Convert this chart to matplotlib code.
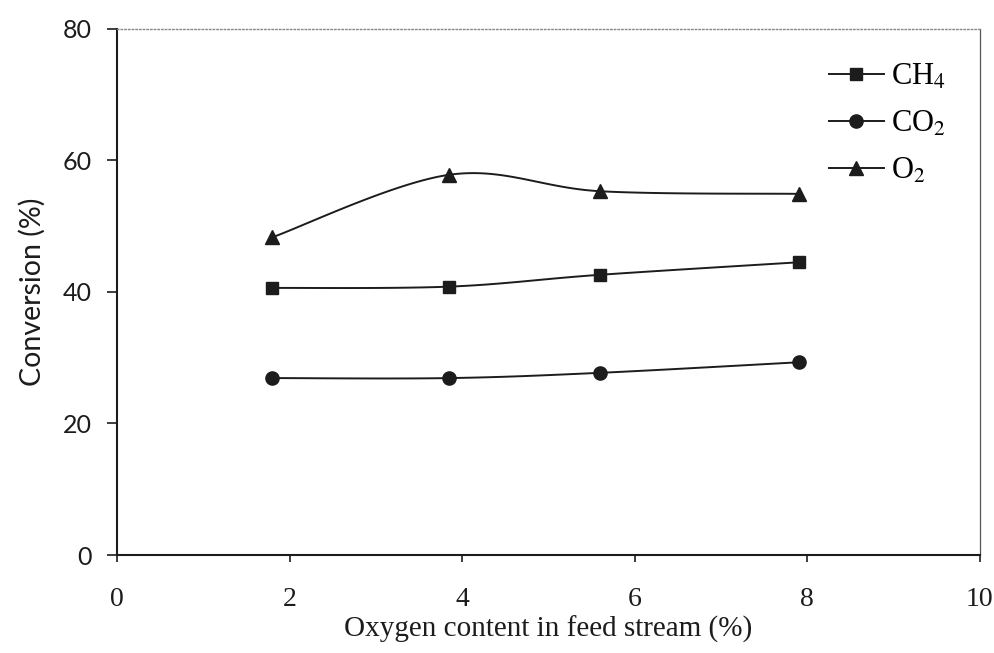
import numpy as np
import matplotlib
matplotlib.use("Agg")
import matplotlib.pyplot as plt

# values
oxygen = [1.8, 3.85, 5.6, 7.9]
ch4 = [40.6, 40.8, 42.6, 44.5]
co2 = [26.9, 26.9, 27.7, 29.3]
o2 = [48.3, 57.8, 55.3, 54.9]

series = [("CH$_4$", ch4, "s", 9), ("CO$_2$", co2, "o", 9.5), ("O$_2$", o2, "^", 9.5)]


def smooth(xs, ys, n=40):
    # Catmull-Rom style smoothing (like a spreadsheet "smoothed line")
    xs = np.asarray(xs, float)
    ys = np.asarray(ys, float)
    px = np.concatenate([[xs[0]], xs, [xs[-1]]])
    py = np.concatenate([[ys[0]], ys, [ys[-1]]])
    out_x, out_y = [], []
    t = np.linspace(0, 1, n)
    for i in range(1, len(px) - 2):
        p0 = np.array([px[i - 1], py[i - 1]])
        p1 = np.array([px[i], py[i]])
        p2 = np.array([px[i + 1], py[i + 1]])
        p3 = np.array([px[i + 2], py[i + 2]])
        c1 = p1 + (p2 - p0) / 6
        c2 = p2 - (p3 - p1) / 6
        pts = ((1 - t) ** 3)[:, None] * p1 + (3 * (1 - t) ** 2 * t)[:, None] * c1 \
            + (3 * (1 - t) * t ** 2)[:, None] * c2 + (t ** 3)[:, None] * p2
        out_x.extend(pts[:, 0])
        out_y.extend(pts[:, 1])
    return out_x, out_y


plt.rcParams["mathtext.fontset"] = "stix"
serif = "Liberation Serif"
ink = "#1c1c1c"

fig = plt.figure(figsize=(9.94, 6.53), dpi=100)
ax = fig.add_axes([0.1177, 0.150, 0.868, 0.806])

for label, vals, mk, ms in series:
    sx, sy = smooth(oxygen, vals)
    ax.plot(sx, sy, color=ink, lw=1.4, zorder=2)
    ax.plot(oxygen, vals, linestyle="none", marker=mk, ms=ms, color=ink, zorder=3)
    ax.plot([], [], color=ink, lw=1.4, marker=mk, ms=ms, label=label)

ax.set_xlim(0, 10)
ax.set_ylim(0, 80)
ax.set_xticks([0, 2, 4, 6, 8, 10])
ax.set_yticks([0, 20, 40, 60, 80])

for lab in ax.get_xticklabels():
    lab.set_fontfamily(serif)
    lab.set_fontsize(20)
for lab in ax.get_yticklabels():
    lab.set_fontfamily("Lato")
    lab.set_fontsize(18)

ax.tick_params(axis="x", direction="out", length=5, width=1.2, pad=18, colors=ink)
ax.tick_params(axis="y", direction="out", length=7, width=1.2, pad=11, colors=ink)

ax.spines["left"].set_linewidth(1.5)
ax.spines["bottom"].set_linewidth(1.5)
ax.spines["left"].set_color(ink)
ax.spines["bottom"].set_color(ink)
ax.spines["top"].set_linestyle(":")
ax.spines["top"].set_color("#888888")
ax.spines["top"].set_linewidth(1.0)
ax.spines["right"].set_color("#555555")
ax.spines["right"].set_linewidth(0.9)

ax.set_xlabel("Oxygen content in feed stream (%)", fontfamily=serif,
              fontsize=21, color=ink, labelpad=3)
ax.set_ylabel("Conversion (%)", fontfamily="Lato", fontsize=20.5,
              color=ink, labelpad=12)

ax.legend(loc="upper left", bbox_to_anchor=(0.825, 0.936), frameon=False,
          prop={"family": serif, "size": 22}, handlelength=1.8,
          handletextpad=0.25, labelspacing=0.58, borderpad=0, borderaxespad=0)

fig.savefig("out.png", dpi=100)
